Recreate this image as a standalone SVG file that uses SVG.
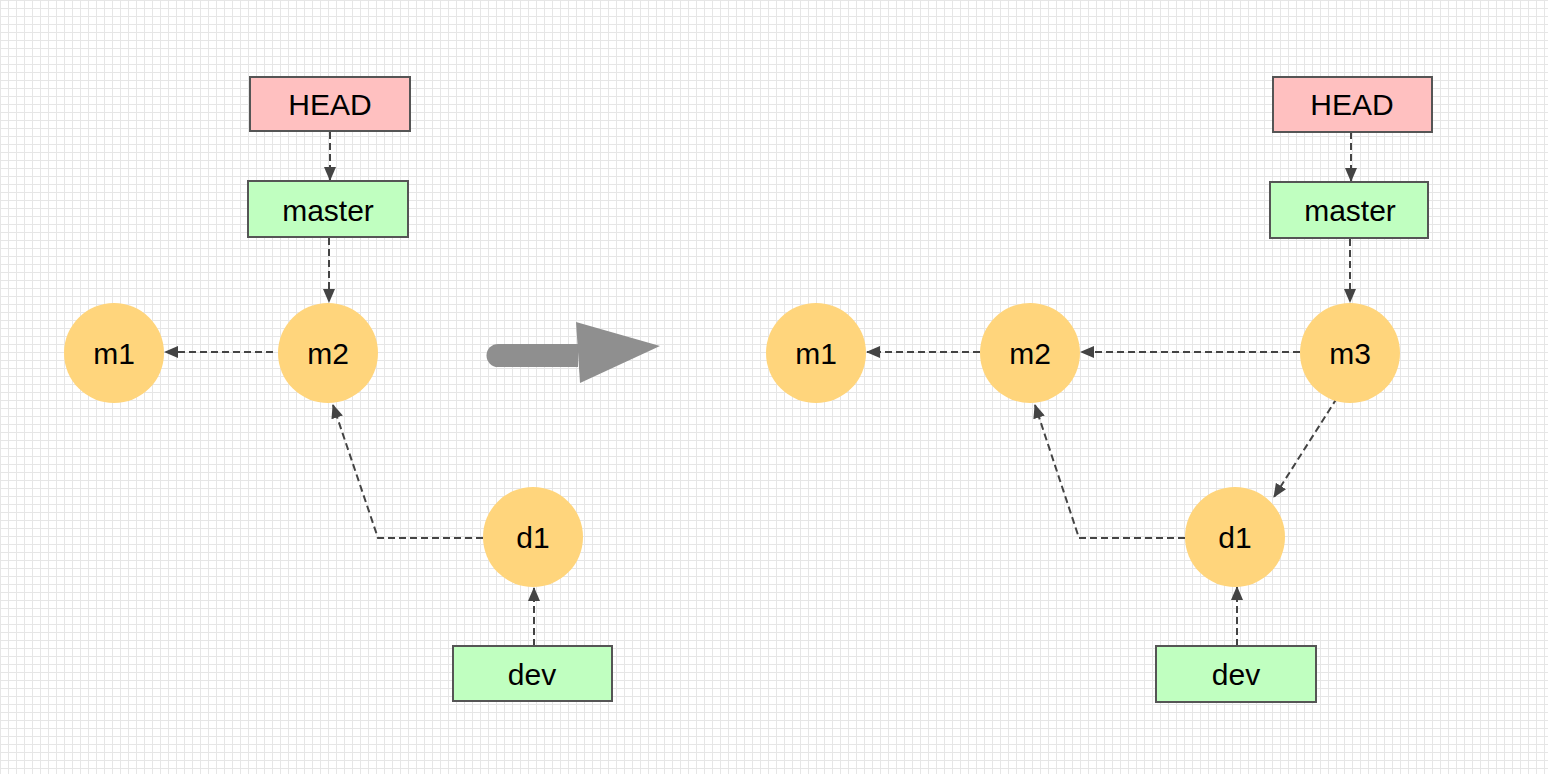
<svg xmlns="http://www.w3.org/2000/svg" width="1548" height="774" viewBox="0 0 1548 774">
<defs>
<pattern id="grid" width="8" height="8" patternUnits="userSpaceOnUse">
<path d="M0 0.5H8M0.5 0V8" stroke="#e6e6e6" stroke-width="1" fill="none"/>
</pattern>
<marker id="ah" viewBox="0 0 14 12" refX="13" refY="6" markerWidth="14" markerHeight="12" markerUnits="userSpaceOnUse" orient="auto">
<path d="M0 0L14 6L0 12Z" fill="#444"/>
</marker>
<style>
.lbl{font-family:"Liberation Sans",Arial,sans-serif;font-size:30px;fill:#000;text-anchor:middle;dominant-baseline:central}
.red{fill:#ffc0c0;stroke:#555;stroke-width:2}
.grn{fill:#c0ffc0;stroke:#555;stroke-width:2}
.cmt{fill:#ffd57c}
.edge{fill:none;stroke:#444;stroke-width:2;stroke-dasharray:7 4;marker-end:url(#ah)}
</style>
</defs>
<rect width="1548" height="774" fill="#fff"/>
<rect width="1548" height="774" fill="url(#grid)"/>

<g id="connectors">
<path class="edge" d="M330 132V180"/>
<path class="edge" d="M329 238V302"/>
<path class="edge" d="M273 352H165"/>
<path class="edge" d="M483 538H378L333 405"/>
<path class="edge" d="M534 646V588"/>
<path class="edge" d="M1351 132V181"/>
<path class="edge" d="M1350 239V302"/>
<path class="edge" d="M1300 352H1081"/>
<path class="edge" d="M980 352H867"/>
<path class="edge" d="M1337 398L1274 497"/>
<path class="edge" d="M1185 538H1079L1035 405"/>
<path class="edge" d="M1237 646V587"/>
</g>

<g id="bigarrow">
<path d="M498 344H578V367H498A11.5 11.5 0 0 1 498 344Z" fill="#8f8f8f"/>
<path d="M576 322L660 346L580 383Z" fill="#8f8f8f"/>
</g>

<g id="L-HEAD"><rect class="red" x="250" y="77" width="160" height="54"/><text class="lbl" x="330" y="104">HEAD</text></g>
<g id="L-master"><rect class="grn" x="248" y="181" width="160" height="56"/><text class="lbl" x="328" y="210">master</text></g>
<g id="L-m1"><circle class="cmt" cx="114" cy="353" r="50"/><text class="lbl" x="114" y="353">m1</text></g>
<g id="L-m2"><circle class="cmt" cx="328" cy="353" r="50"/><text class="lbl" x="328" y="353">m2</text></g>
<g id="L-d1"><circle class="cmt" cx="533" cy="537" r="50"/><text class="lbl" x="533" y="537">d1</text></g>
<g id="L-dev"><rect class="grn" x="453" y="646" width="159" height="55"/><text class="lbl" x="532" y="674">dev</text></g>

<g id="R-HEAD"><rect class="red" x="1273" y="77" width="159" height="55"/><text class="lbl" x="1352" y="104">HEAD</text></g>
<g id="R-master"><rect class="grn" x="1270" y="182" width="158" height="56"/><text class="lbl" x="1350" y="210">master</text></g>
<g id="R-m1"><circle class="cmt" cx="816" cy="353" r="50"/><text class="lbl" x="816" y="353">m1</text></g>
<g id="R-m2"><circle class="cmt" cx="1030" cy="353" r="50"/><text class="lbl" x="1030" y="353">m2</text></g>
<g id="R-m3"><circle class="cmt" cx="1350" cy="353" r="50"/><text class="lbl" x="1350" y="353">m3</text></g>
<g id="R-d1"><circle class="cmt" cx="1235" cy="537" r="50"/><text class="lbl" x="1235" y="537">d1</text></g>
<g id="R-dev"><rect class="grn" x="1156" y="646" width="160" height="56"/><text class="lbl" x="1236" y="674">dev</text></g>
</svg>
